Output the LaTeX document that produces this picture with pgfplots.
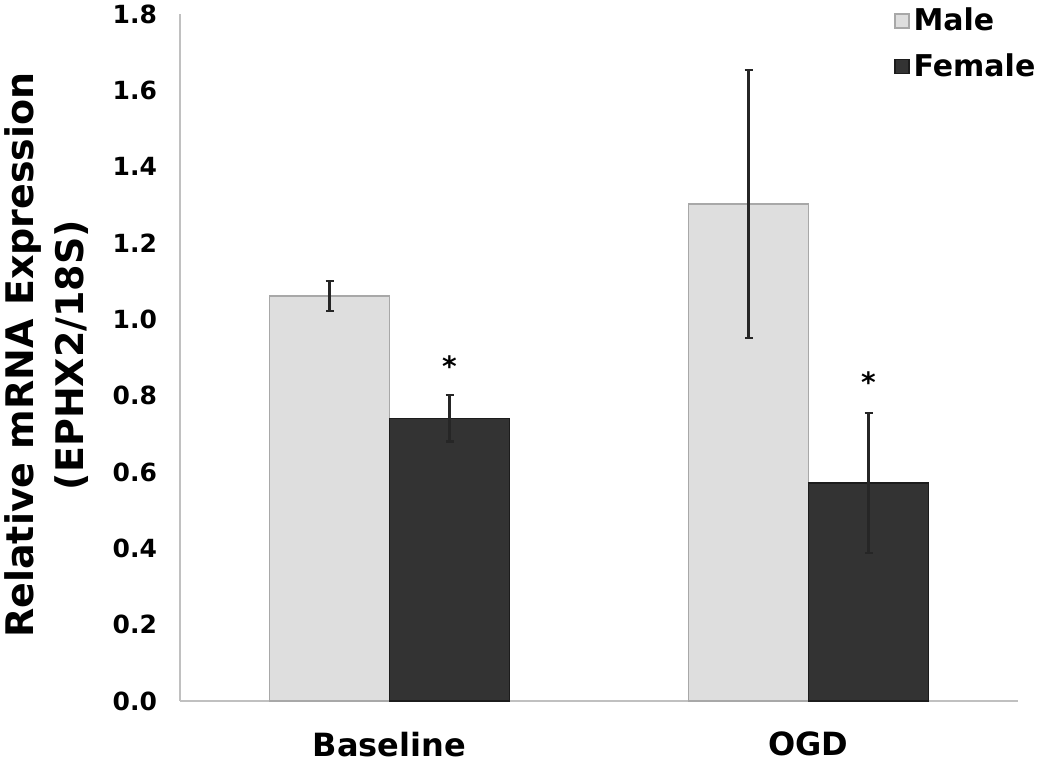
\documentclass[border=0pt]{standalone}
\usepackage{fontspec}
\setmainfont{DejaVu Sans}
\usepackage{pgfplots}
\usepackage{pgfplotstable}
\pgfplotsset{compat=1.18}
\definecolor{malefill}{HTML}{DEDEDE}
\definecolor{maleedge}{HTML}{A8A8A8}
\definecolor{femalefill}{HTML}{333333}
\definecolor{femaleedge}{HTML}{1C1C1C}
\definecolor{axisgray}{HTML}{C0C0C0}
\definecolor{errcol}{HTML}{262626}

\pgfplotstableread{
x y err
0 1.061 0.040
1 1.302 0.351
}\maledata
\pgfplotstableread{
x y err
0 0.741 0.061
1 0.571 0.184
}\femaledata

\begin{document}
\begin{tikzpicture}
\path[use as bounding box] (0,0) rectangle (525pt,385pt);
\begin{axis}[
  at={(90pt,34.5pt)}, anchor=south west,
  scale only axis, width=419pt, height=343.5pt,
  ybar=0pt, bar width=60pt,
  xmin=-0.5, xmax=1.5, ymin=0, ymax=1.8,
  xtick={0,1}, xticklabels={Baseline,OGD},
  ytick={0,0.2,0.4,0.6,0.8,1.0,1.2,1.4,1.6,1.8},
  axis x line*=bottom, axis y line*=left,
  axis line style={draw=axisgray, line width=0.8pt, -},
  major tick length=0pt,
  /pgf/number format/assume math mode=true,
  yticklabel style={/pgf/number format/fixed, /pgf/number format/fixed zerofill, /pgf/number format/precision=1, font=\bfseries\fontsize{12.5}{14}\selectfont, xshift=-8pt},
  xticklabel style={font=\bfseries\fontsize{16}{18}\selectfont, yshift=-12pt},
  legend style={at={(0.852,1.015)}, anchor=north west, draw=none, fill=none,
    font=\bfseries\fontsize{15}{17}\selectfont, row sep=6pt, inner sep=0pt,
    /tikz/every even column/.append style={column sep=4.5pt}},
  legend cell align=left,
  legend image code/.code={\draw[#1] (0pt,-3.5pt) rectangle (7pt,3.5pt);},
  error bars/error bar style={color=errcol, line width=1.1pt},
  error bars/error mark options={rotate=90, mark size=2pt, line width=1.1pt, color=errcol},
  clip=false,
]
\addplot[fill=malefill, draw=maleedge, line width=0.6pt,
  error bars/.cd, y dir=both, y explicit]
  table[x=x, y=y, y error=err] {\maledata};
\addlegendentry{Male}
\addplot[fill=femalefill, draw=femaleedge, line width=0.6pt,
  error bars/.cd, y dir=both, y explicit]
  table[x=x, y=y, y error=err] {\femaledata};
\addlegendentry{Female}
\node[font=\bfseries\fontsize{14}{14}\selectfont, anchor=north, inner sep=0pt] at (axis cs:0.143,0.905) {*};
\node[font=\bfseries\fontsize{14}{14}\selectfont, anchor=north, inner sep=0pt] at (axis cs:1.143,0.865) {*};
\end{axis}
\node[rotate=90, align=center, font=\bfseries\fontsize{19}{25}\selectfont] at (23.5pt,207.5pt) {Relative mRNA Expression\\(EPHX2/18S)};
\end{tikzpicture}
\end{document}
